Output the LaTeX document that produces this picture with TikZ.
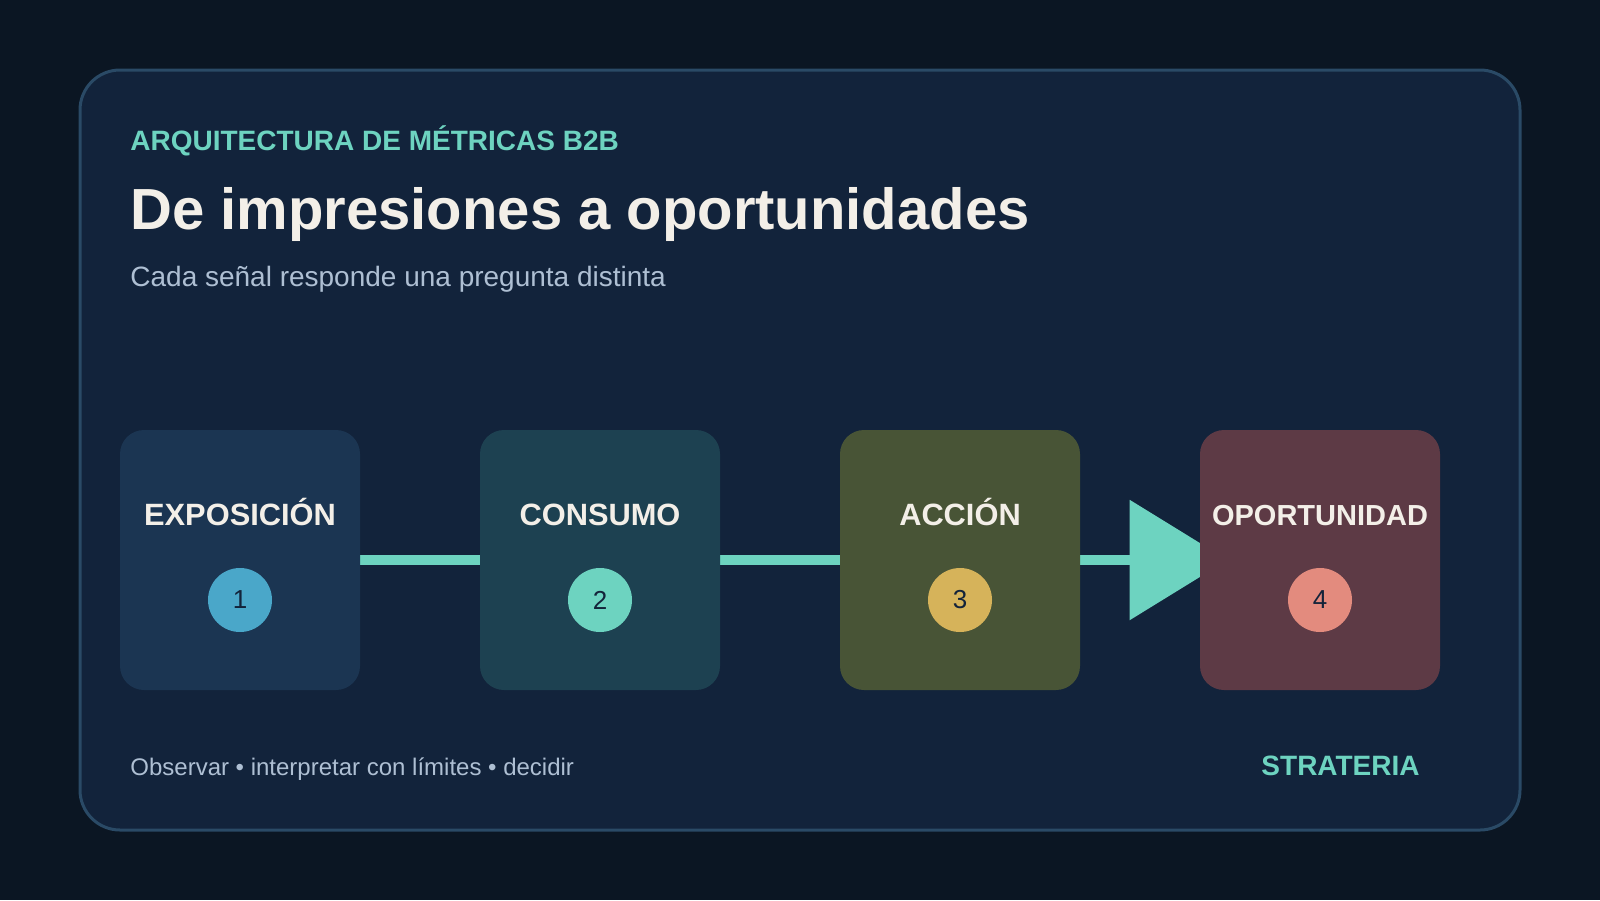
\documentclass[tikz,border=0pt]{standalone}
\usepackage{fontspec}
\setmainfont{Liberation Sans}
\usepackage{tikz}
\usetikzlibrary{positioning}
\usetikzlibrary{arrows.meta}
\definecolor{pagebg}{HTML}{0B1623}
\definecolor{cardbg}{HTML}{12233B}
\definecolor{cardline}{HTML}{2A4A66}
\definecolor{mint}{HTML}{6DD3C0}
\definecolor{offwhite}{HTML}{F3EFE8}
\definecolor{muted}{HTML}{AEBFD3}
\definecolor{numtxt}{HTML}{13233A}
\definecolor{fillexpo}{HTML}{1B3552}
\definecolor{fillcons}{HTML}{1D4151}
\definecolor{fillacc}{HTML}{485436}
\definecolor{fillopor}{HTML}{5D3A45}
\definecolor{dotexpo}{HTML}{4AA7C9}
\definecolor{dotacc}{HTML}{D6B35A}
\definecolor{dotopor}{HTML}{E38B7E}
\pgfdeclarelayer{back}
\pgfsetlayers{back,main}
\tikzset{
    stage/.style={
           rectangle,
           rounded corners=12pt,
           minimum width=120pt,
           minimum height=130pt,
           inner sep=0pt,
           },
    stagename/.style={
           text=offwhite,
           inner sep=0pt,
           font=\bfseries\fontsize{15.4pt}{18pt}\selectfont,
           },
    badge/.style={
           circle,
           minimum size=32pt,
           inner sep=0pt,
           text=numtxt,
           font=\fontsize{13pt}{15pt}\selectfont,
           },
    link/.style={draw=mint, line width=5pt},
}
\begin{document}
\begin{tikzpicture}[x=0.5pt,y=-0.5pt,node distance=180pt,on grid]
   \useasboundingbox (0,0) rectangle (1600,900);
   \begin{pgfonlayer}{back}
   \fill[pagebg] (0,0) rectangle (1600,900);
   \draw[cardline, fill=cardbg, line width=1.5pt, rounded corners=20pt] (80,70) rectangle (1520,830);
   \end{pgfonlayer}
   % heading
   \node[anchor=base west, inner sep=0pt, text=mint, font=\bfseries\fontsize{14pt}{17pt}\selectfont] (kicker) at (130,150) {ARQUITECTURA DE MÉTRICAS B2B};
   \node[anchor=base west, inner sep=0pt, text=offwhite, font=\bfseries\fontsize{29pt}{34pt}\selectfont] (title) at (130,229) {De impresiones a oportunidades};
   \node[anchor=base west, inner sep=0pt, text=muted, font=\fontsize{14pt}{17pt}\selectfont] (sub) at (130,286) {Cada señal responde una pregunta distinta};
   % stages
   \node[stage, fill=fillexpo] (s_1) at (240,560) {};
   \node[stage, fill=fillcons] (s_2) [right=of s_1] {};
   \node[stage, fill=fillacc] (s_3) [right=of s_2] {};
   \node[stage, fill=fillopor] (s_4) [right=of s_3] {};
   \node[stagename] (t_1) [above=17.5pt of s_1, anchor=base] {EXPOSICIÓN};
   \node[stagename] (t_2) [above=17.5pt of s_2, anchor=base] {CONSUMO};
   \node[stagename] (t_3) [above=17.5pt of s_3, anchor=base] {ACCIÓN};
   \node[stagename, font=\bfseries\fontsize{14.5pt}{17pt}\selectfont] (t_4) [above=17.5pt of s_4, anchor=base] {OPORTUNIDAD};
   \node[badge, fill=dotexpo] (n_1) [below=20pt of s_1] {1};
   \node[badge, fill=mint] (n_2) [below=20pt of s_2] {2};
   \node[badge, fill=dotacc] (n_3) [below=20pt of s_3] {3};
   \node[badge, fill=dotopor] (n_4) [below=20pt of s_4] {4};
   \coordinate (tip) at ([xshift=14pt]s_4.west);
   \begin{pgfonlayer}{back}
   \path[link]
    (s_1.east) edge (s_2.west)
    (s_2.east) edge (s_3.west);
   \draw[link, -{Triangle[length=49pt 0 1,width=59pt 0 1]}] (s_3.east) -- (tip);
   \end{pgfonlayer}
   % footer
   \node[anchor=base west, inner sep=0pt, text=muted, font=\fontsize{12pt}{14pt}\selectfont] (foot) at (130,775) {Observar • interpretar con límites • decidir};
   \node[anchor=base east, inner sep=0pt, text=mint, font=\bfseries\fontsize{14pt}{17pt}\selectfont] (brand) at (1420,775) {STRATERIA};
\end{tikzpicture}
\end{document}
